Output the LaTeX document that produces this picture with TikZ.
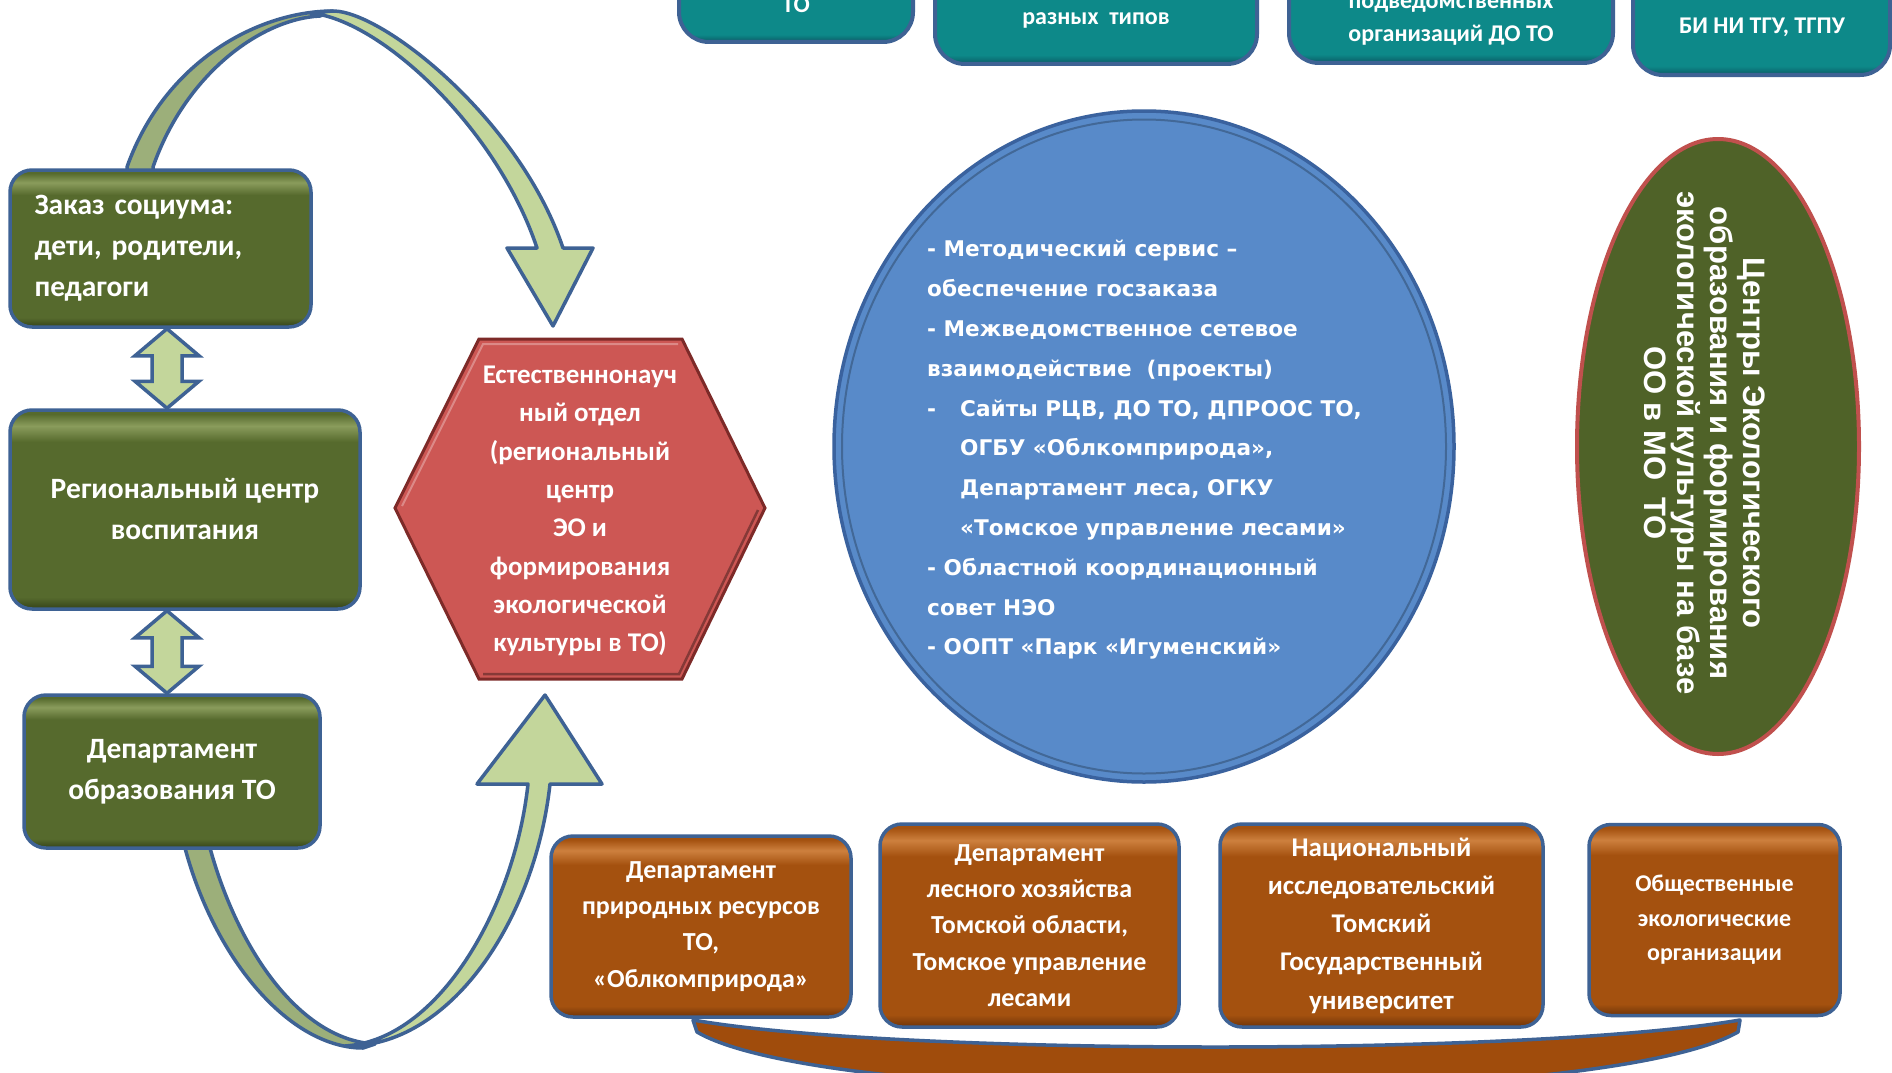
\documentclass[tikz,border=0pt]{standalone}
\usepackage{fontspec}
\setmainfont{Carlito}
\newfontfamily\dvsans{DejaVu Sans}
\newfontfamily\lsans{Liberation Sans}
\usetikzlibrary{shapes.geometric,calc}

\definecolor{bord}{RGB}{62,98,148}
\definecolor{gbase}{RGB}{86,106,45}
\definecolor{glight}{RGB}{138,156,92}
\definecolor{gdark}{RGB}{52,66,24}
\definecolor{obase}{RGB}{164,81,15}
\definecolor{olight}{RGB}{205,128,62}
\definecolor{odark}{RGB}{110,52,8}
\definecolor{tbase}{RGB}{13,137,137}
\definecolor{tlight}{RGB}{60,168,168}
\definecolor{tdark}{RGB}{10,90,100}
\definecolor{hexfill}{RGB}{205,87,84}
\definecolor{hexbord}{RGB}{125,42,40}
\definecolor{circfill}{RGB}{88,138,201}
\definecolor{circbord}{RGB}{58,98,158}
\definecolor{ellfill}{RGB}{79,98,40}
\definecolor{ellbord}{RGB}{192,80,77}
\definecolor{arrlight}{RGB}{195,214,155}
\definecolor{arrdark}{RGB}{156,175,122}
\definecolor{bandfill}{RGB}{160,76,12}

\pgfdeclareverticalshading{gbev}{100bp}{color(0bp)=(gdark); color(25bp)=(gdark); color(28bp)=(gbase); color(67bp)=(gbase); color(71bp)=(glight); color(74bp)=(gbase); color(100bp)=(gbase)}
\pgfdeclareverticalshading{obev}{100bp}{color(0bp)=(odark); color(25bp)=(odark); color(28bp)=(obase); color(67bp)=(obase); color(71bp)=(olight); color(74bp)=(obase); color(100bp)=(obase)}
\pgfdeclareverticalshading{tbev}{100bp}{color(0bp)=(tdark); color(25bp)=(tdark); color(28bp)=(tbase); color(100bp)=(tbase)}

\begin{document}
\begin{tikzpicture}[x=1pt,y=-1pt,
  gbox/.style={draw=bord, line width=3.5pt, rounded corners=22pt, shading=gbev, text=white, align=center, inner sep=0pt, font=\fontsize{29.5}{41}\selectfont\bfseries},
  obox/.style={draw=bord, line width=3.5pt, rounded corners=22pt, shading=obev, text=white, align=center, inner sep=0pt},
  tbox/.style={draw=bord, line width=4pt, rounded corners=30pt, shading=tbev, inner sep=0pt},
  ttext/.style={text=white, align=center, inner sep=0pt, font=\fontsize{24}{33}\selectfont\bfseries},
  arrd/.style={fill=arrdark, draw=bord, line width=3.5pt, line join=round},
  arrl/.style={fill=arrlight, draw=bord, line width=3.5pt, line join=round},
  dbl/.style={fill=arrlight, draw=bord, line width=3.5pt, line join=miter},
]
\useasboundingbox (0,0) rectangle (1892,1073);
\clip (0,0) rectangle (1892,1073);
\fill[white] (0,0) rectangle (1892,1073);

% top teal boxes (cut by the top edge)
\node[tbox, minimum width=234pt, minimum height=124pt] (tb1) at (796,-20) {};
\node[tbox, minimum width=322pt, minimum height=148pt] (tb2) at (1096,-10) {};
\node[tbox, minimum width=324pt, minimum height=146pt] (tb3) at (1451,-10) {};
\node[tbox, minimum width=257pt, minimum height=150pt] (tb4) at (1761.5,0) {};
\node[ttext] (tb1t) at (796,5) {ТО};
\node[ttext] (tb2t) at (1096,20) {разных~~типов};
\node[ttext] (tb3t) at (1451,21) {подведомственных\\организаций ДО ТО};
\node[ttext] (tb4t) at (1762,27) {БИ НИ ТГУ, ТГПУ};

% curved arrow, top
\draw[arrd] (127,210) -- (127,167) .. controls (165,60) and (260,11) .. (333,11) -- (320,16) .. controls (260,19) and (185,75) .. (153,167) -- (153,210) -- cycle;
\draw[arrl] (310,13) -- (333,11) .. controls (383,11) and (520,120) .. (563,248) -- (593,248) -- (553,326) -- (507,248) -- (537,248) .. controls (497,128) and (380,19) .. (310,13) -- cycle;

% curved arrow, bottom
\draw[arrd] (185,820) -- (185,848) .. controls (215,960) and (290,1048) .. (363,1048) -- (375,1044) .. controls (300,1040) and (238,950) .. (210,848) -- (210,820) -- cycle;
\draw[arrl] (345,1046) .. controls (450,1048) and (535,920) .. (550,784) -- (602,784) -- (545,695) -- (477,784) -- (528,784) .. controls (515,905) and (440,1040) .. (345,1046) -- cycle;

% left green boxes
\node[gbox, align=left, text width=252pt, minimum width=301pt, minimum height=157pt] (zakaz) at (160.5,248.5) {Заказ социума:\\дети, родители,\\педагоги};
\node[gbox, minimum width=350pt, minimum height=199pt] (reg) at (185,509.5) {Региональный центр\\воспитания};
\node[gbox, minimum width=296pt, minimum height=153pt] (dep) at (172,771.5) {Департамент\\образования ТО};

% double arrows
\coordinate (ax) at (167,0);
\coordinate (a1t) at (zakaz.south -| ax);
\coordinate (a1b) at (reg.north -| ax);
\coordinate (a2t) at (reg.south -| ax);
\coordinate (a2b) at (dep.north -| ax);
\draw[dbl] (a1t) -- ($(a1t)+(32,27)$) -- ($(a1t)+(15,27)$) -- ($(a1b)+(15,-27)$) -- ($(a1b)+(32,-27)$) -- (a1b) -- ($(a1b)+(-32,-27)$) -- ($(a1b)+(-15,-27)$) -- ($(a1t)+(-15,27)$) -- ($(a1t)+(-32,27)$) -- cycle;
\draw[dbl] (a2t) -- ($(a2t)+(32,27)$) -- ($(a2t)+(15,27)$) -- ($(a2b)+(15,-27)$) -- ($(a2b)+(32,-27)$) -- (a2b) -- ($(a2b)+(-32,-27)$) -- ($(a2b)+(-15,-27)$) -- ($(a2t)+(-15,27)$) -- ($(a2t)+(-32,27)$) -- cycle;

% hexagon
\draw[fill=hexfill, draw=hexbord, line width=3pt, line join=miter] (395,508) -- (479,339) -- (682,339) -- (765,508) -- (682,679) -- (479,679) -- cycle;
\draw[hexfill!70!white, line width=2pt] (402,506) -- (483,344) -- (678,344);
\draw[hexfill!65!black, line width=2.5pt] (758,510) -- (679,674) -- (483,674);
\node[text=white, align=center, inner sep=0pt, font=\fontsize{27}{38.3}\selectfont\bfseries] (hex) at (580,511) {Естественнонауч\\ный отдел\\(региональный\\центр\\ЭО и\\формирования\\экологической\\культуры в ТО)};

% blue circle
\node[ellipse, fill=circfill, draw=circbord, line width=3.5pt, minimum width=620pt, minimum height=671pt, inner sep=0pt] (circ) at (1144,446.5) {};
\draw[circfill!75!black, line width=2pt] (circ.center) ellipse [x radius=302pt, y radius=327pt];
\node[anchor=west, text=white, align=left, inner sep=0pt, font=\dvsans\fontsize{21.6}{39.8}\selectfont\bfseries] (circtxt) at (927,450) {- Методический сервис –\\обеспечение госзаказа\\- Межведомственное сетевое\\взаимодействие~~(проекты)\\\makebox[33pt][l]{-}Сайты РЦВ, ДО ТО, ДПРООС ТО,\\\hspace*{33pt}ОГБУ «Облкомприрода»,\\\hspace*{33pt}Департамент леса, ОГКУ\\\hspace*{33pt}«Томское управление лесами»\\- Областной координационный\\совет НЭО\\- ООПТ «Парк «Игуменский»};

% green ellipse
\node[ellipse, fill=ellfill, draw=ellbord, line width=4pt, minimum width=282pt, minimum height=615pt, inner sep=0pt] (cent) at (1718,446.5) {};
\node[rotate=-90, text=white, align=center, inner sep=0pt, font=\lsans\fontsize{31}{33}\selectfont\bfseries] (centt) at (1705,443) {Центры Экологического\\образования и формирования\\экологической культуры на базе\\ОО в МО~~ТО};

% bottom band
\draw[fill=bandfill, draw=bord, line width=3.5pt, line join=round] (693,1020) .. controls (900,1056) and (1530,1056) .. (1740,1020) -- (1738,1032) .. controls (1600,1110) and (830,1110) .. (697,1032) -- cycle;

% orange boxes
\node[obox, minimum width=300pt, minimum height=181pt, font=\fontsize{26}{36.2}\selectfont\bfseries] (ob1) at (701,926.5) {Департамент\\природных ресурсов\\ТО,\\«Облкомприрода»};
\node[obox, minimum width=299pt, minimum height=203pt, font=\fontsize{26}{36.2}\selectfont\bfseries] (ob2) at (1029.5,925.5) {Департамент\\лесного хозяйства\\Томской области,\\Томское управление\\лесами};
\node[obox, minimum width=323pt, minimum height=203pt, font=\fontsize{27}{38.3}\selectfont\bfseries] (ob3) at (1381.5,925.5) {Национальный\\исследовательский\\Томский\\Государственный\\университет};
\node[obox, minimum width=251pt, minimum height=191pt, font=\fontsize{24}{34.4}\selectfont\bfseries] (ob4) at (1714.5,920) {Общественные\\экологические\\организации};
\end{tikzpicture}
\end{document}
